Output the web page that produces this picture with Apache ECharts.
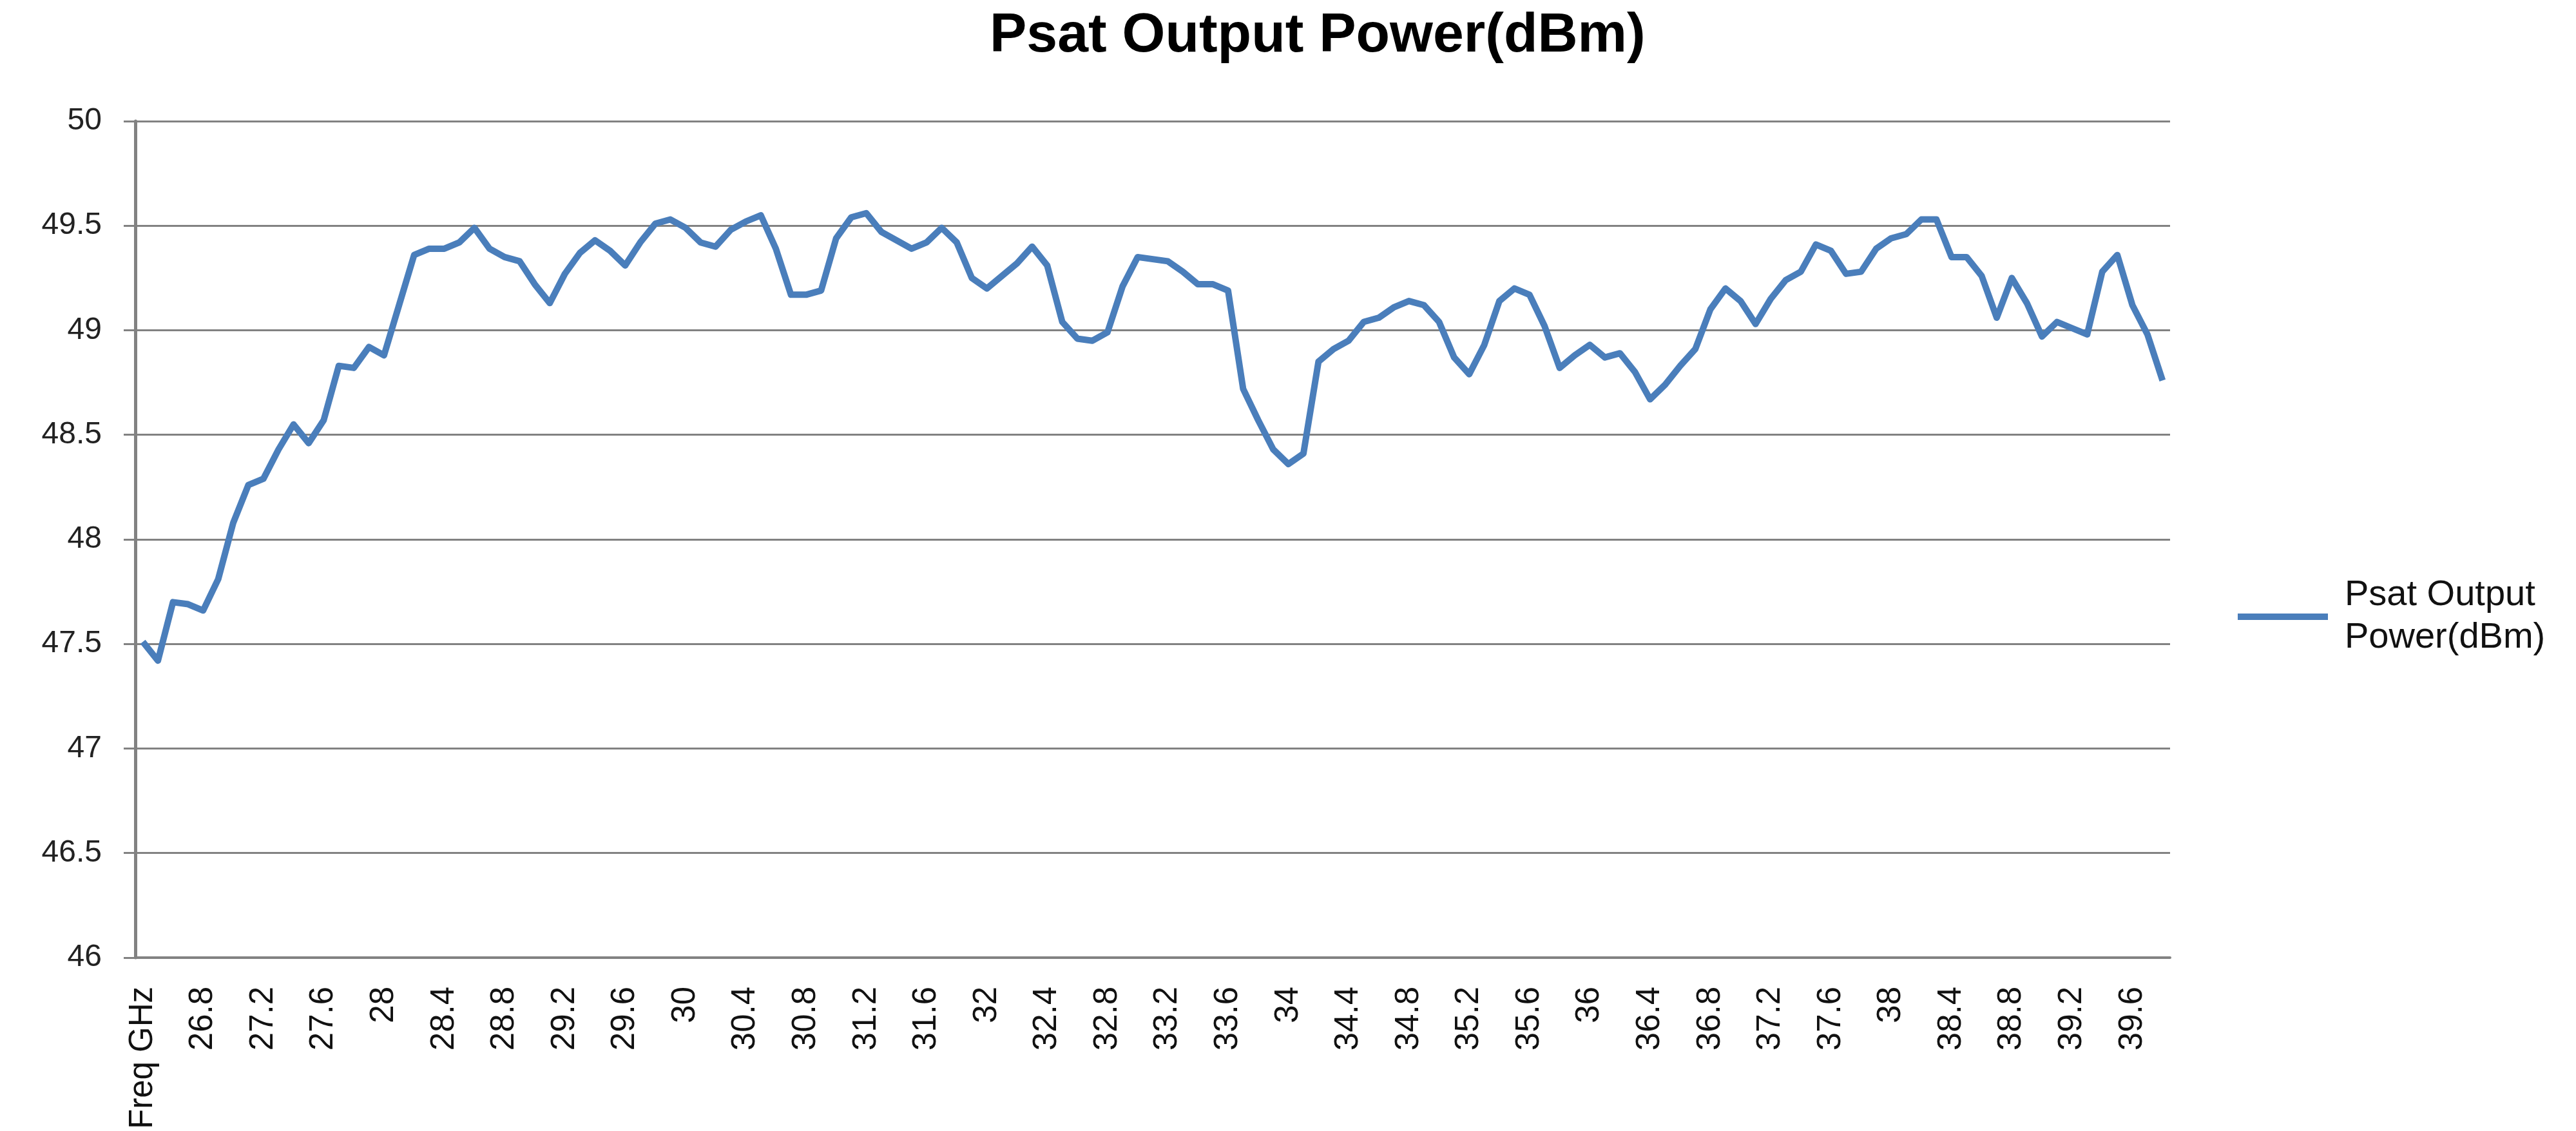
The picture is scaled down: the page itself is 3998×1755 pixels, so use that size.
<!DOCTYPE html>
<html>
<head>
<meta charset="utf-8">
<title>Psat Output Power(dBm)</title>
<script src="https://cdn.jsdelivr.net/npm/echarts@6/dist/echarts.min.js"></script>
<style>
  html, body { margin: 0; padding: 0; background: #fff; }
  #chart { width: 3998px; height: 1755px; }
</style>
</head>
<body>
<div id="chart"></div>
<script>
const freqLabels = [
  'Freq GHz',
  '26.5', '26.6', '26.7', '26.8', '26.9', '27', '27.1', '27.2', '27.3', '27.4', '27.5', '27.6', '27.7', '27.8', '27.9',
  '28', '28.1', '28.2', '28.3', '28.4', '28.5', '28.6', '28.7', '28.8', '28.9',
  '29', '29.1', '29.2', '29.3', '29.4', '29.5', '29.6', '29.7', '29.8', '29.9',
  '30', '30.1', '30.2', '30.3', '30.4', '30.5', '30.6', '30.7', '30.8', '30.9',
  '31', '31.1', '31.2', '31.3', '31.4', '31.5', '31.6', '31.7', '31.8', '31.9',
  '32', '32.1', '32.2', '32.3', '32.4', '32.5', '32.6', '32.7', '32.8', '32.9',
  '33', '33.1', '33.2', '33.3', '33.4', '33.5', '33.6', '33.7', '33.8', '33.9',
  '34', '34.1', '34.2', '34.3', '34.4', '34.5', '34.6', '34.7', '34.8', '34.9',
  '35', '35.1', '35.2', '35.3', '35.4', '35.5', '35.6', '35.7', '35.8', '35.9',
  '36', '36.1', '36.2', '36.3', '36.4', '36.5', '36.6', '36.7', '36.8', '36.9',
  '37', '37.1', '37.2', '37.3', '37.4', '37.5', '37.6', '37.7', '37.8', '37.9',
  '38', '38.1', '38.2', '38.3', '38.4', '38.5', '38.6', '38.7', '38.8', '38.9',
  '39', '39.1', '39.2', '39.3', '39.4', '39.5', '39.6', '39.7', '39.8'
]

const psatDbm = [
  47.51, 47.42, 47.70, 47.69, 47.66, 47.81, 48.08, 48.26, 48.29, 48.43,
  48.55, 48.46, 48.57, 48.83, 48.82, 48.92, 48.88, 49.12, 49.36, 49.39,
  49.39, 49.42, 49.49, 49.39, 49.35, 49.33, 49.22, 49.13, 49.27, 49.37,
  49.43, 49.38, 49.31, 49.42, 49.51, 49.53, 49.49, 49.42, 49.40, 49.48,
  49.52, 49.55, 49.39, 49.17, 49.17, 49.19, 49.44, 49.54, 49.56, 49.47,
  49.43, 49.39, 49.42, 49.49, 49.42, 49.25, 49.20, 49.26, 49.32, 49.40,
  49.31, 49.04, 48.96, 48.95, 48.99, 49.21, 49.35, 49.34, 49.33, 49.28,
  49.22, 49.22, 49.19, 48.72, 48.57, 48.43, 48.36, 48.41, 48.85, 48.91,
  48.95, 49.04, 49.06, 49.11, 49.14, 49.12, 49.04, 48.87, 48.79, 48.93,
  49.14, 49.20, 49.17, 49.02, 48.82, 48.88, 48.93, 48.87, 48.89, 48.80,
  48.67, 48.74, 48.83, 48.91, 49.10, 49.20, 49.14, 49.03, 49.15, 49.24,
  49.28, 49.41, 49.38, 49.27, 49.28, 49.39, 49.44, 49.46, 49.53, 49.53,
  49.35, 49.35, 49.26, 49.06, 49.25, 49.13, 48.97, 49.04, 49.01, 48.98,
  49.28, 49.36, 49.12, 48.98, 48.76
]

const yMin = 46
const yMax = 50
const yStep = 0.5

const gridGray = '#828282'
const lineBlue = '#4a7ebb'
const font = 'Liberation Sans, Arial, sans-serif'

const chart = echarts.init(document.getElementById('chart'))
chart.setOption({
  backgroundColor: '#fff',
  animation: false,
  title: {
    text: 'Psat Output Power(dBm)',
    left: 1531,
    top: 8,
    textStyle: { fontFamily: font, fontWeight: 'bold', fontSize: 86, color: '#000' }
  },
  legend: {
    orient: 'vertical',
    left: 3468,
    top: 886,
    icon: 'rect',
    itemWidth: 140,
    itemHeight: 10,
    formatter: () => 'Psat Output\nPower(dBm)',
    textStyle: { fontFamily: font, fontSize: 56, lineHeight: 66, color: '#111', padding: [0, 0, 0, 21] }
  },
  grid: { left: 210, right: 630, top: 188, bottom: 266 },
  xAxis: {
    type: 'category',
    data: freqLabels,
    boundaryGap: true,
    axisLine: { lineStyle: { color: gridGray, width: 4 } },
    axisTick: { interval: 0, length: 25, lineStyle: { color: gridGray, width: 3 } },
    axisLabel: { interval: 3, rotate: 90, margin: 45, fontFamily: font, fontSize: 51, color: '#111' }
  },
  yAxis: {
    type: 'value',
    min: yMin,
    max: yMax,
    interval: yStep,
    axisLine: { show: true, lineStyle: { color: gridGray, width: 5 } },
    axisTick: { show: true, length: 18, lineStyle: { color: gridGray, width: 3 } },
    splitLine: { lineStyle: { color: gridGray, width: 3 } },
    axisLabel: {
      margin: 52,
      fontFamily: 'Liberation Sans Narrow, Liberation Sans, Arial, sans-serif',
      fontSize: 48,
      color: '#222'
    }
  },
  series: [{
    name: 'Psat Output Power(dBm)',
    type: 'line',
    data: psatDbm,
    symbol: 'none',
    lineStyle: { color: lineBlue, width: 10, join: 'round' },
    itemStyle: { color: lineBlue }
  }]
})
</script>
</body>
</html>
